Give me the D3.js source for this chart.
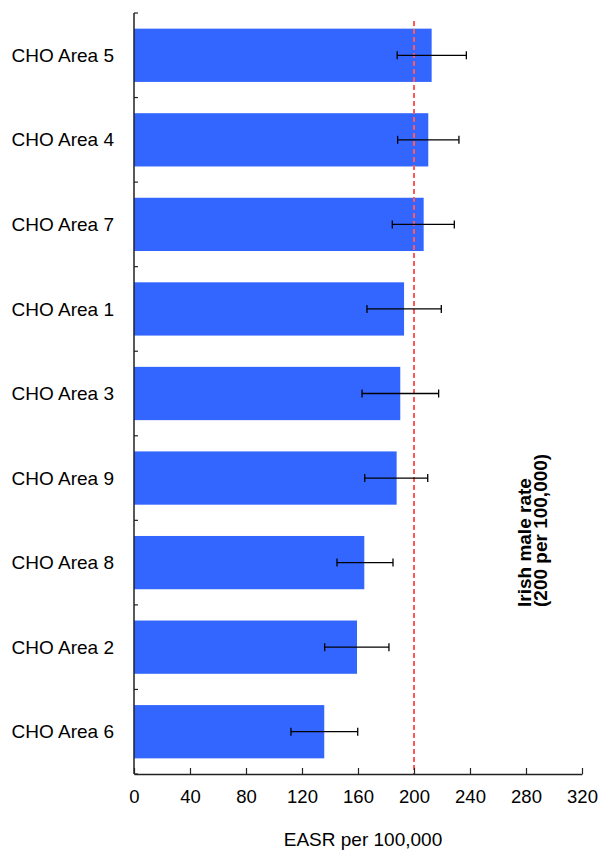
<!DOCTYPE html>
<html>
<head>
<meta charset="utf-8">
<script src="https://cdn.jsdelivr.net/npm/d3@7"></script>
<style>
  html, body { margin: 0; padding: 0; background: #fff; }
  svg { display: block; font-family: Arial, "Liberation Sans", sans-serif; }
</style>
</head>
<body>
<svg id="chart" width="602" height="852"></svg>
<script>
// Age-standardised rates by CHO area, with 95% confidence limits
const areas = ["CHO Area 5", "CHO Area 4", "CHO Area 7", "CHO Area 1", "CHO Area 3",
               "CHO Area 9", "CHO Area 8", "CHO Area 2", "CHO Area 6"];
const rates = [212.6, 210.2, 206.9, 192.9, 190.2, 187.6, 164.5, 159.3, 135.9];
const lowerCI = [188.0, 188.3, 184.5, 166.4, 162.9, 164.8, 145.0, 136.2, 112.1];
const upperCI = [237.4, 232.1, 228.8, 219.5, 217.6, 209.8, 185.0, 182.1, 159.8];
const xTicks = [0, 40, 80, 120, 160, 200, 240, 280, 320];
const nationalRate = 200;

(function () {
  const svg = d3.select("#chart");
  const plotLeft = 134, plotRight = 582, plotTop = 13, plotBottom = 774;

  const x = d3.scaleLinear().domain([0, 320]).range([plotLeft, plotRight]);
  const y = d3.scaleBand().domain(areas).range([plotTop, plotBottom]).paddingInner(0.37).paddingOuter(0.185);
  const yb = d3.scaleBand().domain(areas).range([plotTop, plotBottom]);

  const data = areas.map((a, i) => ({ area: a, rate: rates[i], lo: lowerCI[i], hi: upperCI[i] }));

  // bars
  svg.append("g").selectAll("rect").data(data).join("rect")
    .attr("x", x(0))
    .attr("y", d => y(d.area))
    .attr("width", d => x(d.rate) - x(0))
    .attr("height", y.bandwidth())
    .attr("fill", "#3366ff");

  // national reference line
  svg.append("line")
    .attr("x1", x(nationalRate)).attr("x2", x(nationalRate))
    .attr("y1", 21).attr("y2", plotBottom)
    .attr("stroke", "#ff5a5a").attr("stroke-width", 2)
    .attr("stroke-dasharray", "5,3");

  // confidence intervals
  const eb = svg.append("g").attr("stroke", "#000").attr("stroke-width", 1.3);
  data.forEach(d => {
    const cy = y(d.area) + y.bandwidth() / 2;
    eb.append("line").attr("x1", x(d.lo)).attr("x2", x(d.hi)).attr("y1", cy).attr("y2", cy);
    [d.lo, d.hi].forEach(v => eb.append("line")
      .attr("x1", x(v)).attr("x2", x(v)).attr("y1", cy - 4).attr("y2", cy + 4));
  });

  // x axis (ticks point inward)
  const xAxis = svg.append("g").attr("transform", `translate(0,${plotBottom})`)
    .call(d3.axisBottom(x).tickValues(xTicks).tickSizeInner(-6).tickSizeOuter(0).tickPadding(16));
  xAxis.select(".domain").attr("stroke", "#222").attr("stroke-width", 1.5);
  xAxis.selectAll(".tick line").attr("stroke", "#222").attr("stroke-width", 1.2);
  xAxis.selectAll(".tick text").attr("font-size", 18.5).attr("fill", "#000")
    .attr("font-family", "Arial, 'Liberation Sans', sans-serif");

  // y axis line with band-boundary ticks pointing inward
  svg.append("line").attr("x1", plotLeft).attr("x2", plotLeft).attr("y1", plotTop).attr("y2", plotBottom)
    .attr("stroke", "#222").attr("stroke-width", 1.5);
  const bounds = areas.map(a => yb(a)).concat([plotBottom]);
  svg.append("g").selectAll("line").data(bounds).join("line")
    .attr("x1", plotLeft).attr("x2", plotLeft + 4)
    .attr("y1", d => d).attr("y2", d => d)
    .attr("stroke", "#222").attr("stroke-width", 1.2);

  // category labels
  svg.append("g").selectAll("text").data(areas).join("text")
    .attr("x", 114)
    .attr("y", a => y(a) + y.bandwidth() / 2)
    .attr("dy", "0.35em")
    .attr("text-anchor", "end")
    .attr("font-size", 19)
    .text(a => a);

  // axis title
  svg.append("text").attr("x", 363).attr("y", 846)
    .attr("text-anchor", "middle").attr("font-size", 19).text("EASR per 100,000");

  // reference line annotation
  const note = svg.append("text")
    .attr("transform", "translate(531,607) rotate(-90)")
    .attr("text-anchor", "start").attr("font-size", 19).attr("font-weight", "bold");
  note.append("tspan").attr("x", 0).attr("y", 0).text("Irish male rate");
  note.append("tspan").attr("x", 0).attr("y", 16).text("(200 per 100,000)");
})();
</script>
</body>
</html>
